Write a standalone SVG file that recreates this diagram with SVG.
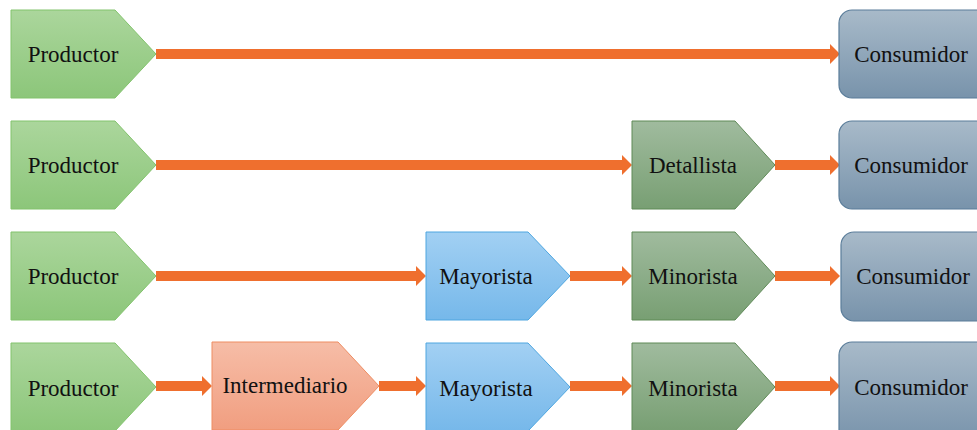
<svg xmlns="http://www.w3.org/2000/svg" width="977" height="430" viewBox="0 0 977 430">
<defs>
<linearGradient id="gProd" x1="0" y1="0" x2="0" y2="1"><stop offset="0" stop-color="#abd69c"/><stop offset="1" stop-color="#8cc67a"/></linearGradient>
<linearGradient id="gDet" x1="0" y1="0" x2="0" y2="1"><stop offset="0" stop-color="#a0bb9e"/><stop offset="1" stop-color="#789f73"/></linearGradient>
<linearGradient id="gMay" x1="0" y1="0" x2="0" y2="1"><stop offset="0" stop-color="#a2d0f3"/><stop offset="1" stop-color="#76b8ea"/></linearGradient>
<linearGradient id="gInt" x1="0" y1="0" x2="0" y2="1"><stop offset="0" stop-color="#f6bda7"/><stop offset="1" stop-color="#f19e80"/></linearGradient>
<linearGradient id="gCon" x1="0" y1="0" x2="0" y2="1"><stop offset="0" stop-color="#a8bac9"/><stop offset="1" stop-color="#7893ab"/></linearGradient>
<marker id="ah" markerUnits="userSpaceOnUse" markerWidth="10" markerHeight="20" refX="0" refY="10" orient="auto" overflow="visible">
<path d="M0,0 L10,10 L0,20 Z" fill="#ef6f2e"/>
</marker>
</defs>
<style>
text{font-family:"Liberation Serif","Times New Roman",serif;font-size:23px;fill:#111;text-anchor:middle}
.prod{fill:url(#gProd);stroke:#82c36c;stroke-width:1}
.det{fill:url(#gDet);stroke:#5f8a57;stroke-width:1}
.may{fill:url(#gMay);stroke:#4ea6e0;stroke-width:1}
.int{fill:url(#gInt);stroke:#ee8d63;stroke-width:1}
.con{fill:url(#gCon);stroke:#5a7d9a;stroke-width:1.2}
.arr{stroke:#ef6f2e;stroke-width:10;fill:none;marker-end:url(#ah)}
</style>
<g id="connectors">
<line class="arr" x1="156" y1="54" x2="830" y2="54"/>
<line class="arr" x1="156" y1="165" x2="622" y2="165"/>
<line class="arr" x1="775" y1="165" x2="830" y2="165"/>
<line class="arr" x1="156" y1="276" x2="416" y2="276"/>
<line class="arr" x1="570" y1="276" x2="622" y2="276"/>
<line class="arr" x1="775" y1="276" x2="830" y2="276"/>
<line class="arr" x1="156" y1="386" x2="202" y2="386"/>
<line class="arr" x1="379" y1="386" x2="416" y2="386"/>
<line class="arr" x1="570" y1="386" x2="622" y2="386"/>
<line class="arr" x1="775" y1="386" x2="830" y2="386"/>
</g>
<g id="row1-productor"><polygon class="prod" points="11,10 115,10 156,54 115,98 11,98"/><text x="73" y="62">Productor</text></g>
<g id="row1-consumidor"><rect class="con" x="839" y="10" width="160" height="88" rx="13"/><text x="911" y="62">Consumidor</text></g>
<g id="row2-productor"><polygon class="prod" points="11,121 115,121 156,165 115,209 11,209"/><text x="73" y="173">Productor</text></g>
<g id="row2-detallista"><polygon class="det" points="632,121 735,121 775,165 735,209 632,209"/><text x="693" y="173">Detallista</text></g>
<g id="row2-consumidor"><rect class="con" x="839" y="121" width="160" height="88" rx="13"/><text x="911" y="173">Consumidor</text></g>
<g id="row3-productor"><polygon class="prod" points="11,232 115,232 156,276 115,320 11,320"/><text x="73" y="284">Productor</text></g>
<g id="row3-mayorista"><polygon class="may" points="426,232 528,232 570,276 528,320 426,320"/><text x="486" y="284">Mayorista</text></g>
<g id="row3-minorista"><polygon class="det" points="632,232 735,232 775,276 735,320 632,320"/><text x="693" y="284">Minorista</text></g>
<g id="row3-consumidor"><rect class="con" x="841" y="232" width="160" height="89" rx="13"/><text x="913" y="284">Consumidor</text></g>
<g id="row4-productor"><polygon class="prod" points="11,343 115,343 156,387 115,431 11,431"/><text x="73" y="396">Productor</text></g>
<g id="row4-intermediario"><polygon class="int" points="212,342 338,342 379,386 338,430 212,430"/><text x="285" y="393">Intermediario</text></g>
<g id="row4-mayorista"><polygon class="may" points="426,343 528,343 570,387 528,431 426,431"/><text x="486" y="396">Mayorista</text></g>
<g id="row4-minorista"><polygon class="det" points="632,343 735,343 775,387 735,431 632,431"/><text x="693" y="396">Minorista</text></g>
<g id="row4-consumidor"><rect class="con" x="839" y="342" width="160" height="100" rx="13"/><text x="911" y="395">Consumidor</text></g>
</svg>
